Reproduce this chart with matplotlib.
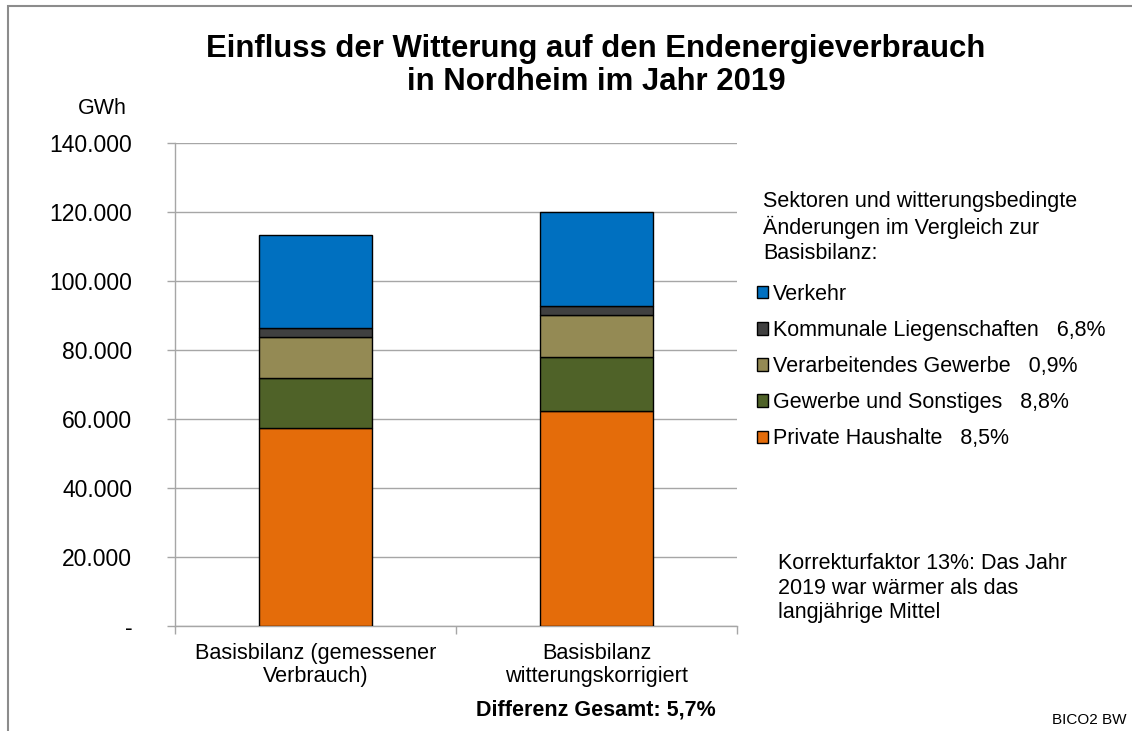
import matplotlib
matplotlib.use("Agg")
import matplotlib.pyplot as plt
from matplotlib.patches import Rectangle
import numpy as np

plt.rcParams['font.family'] = ['Liberation Sans', 'DejaVu Sans']

# data (GWh)
categories = ['Basisbilanz (gemessener\nVerbrauch)', 'Basisbilanz\nwitterungskorrigiert']
sectors = ['Private Haushalte', 'Gewerbe und Sonstiges', 'Verarbeitendes Gewerbe',
           'Kommunale Liegenschaften', 'Verkehr']
changes = ['8,5%', '8,8%', '0,9%', '6,8%', '']
private = [57400, 62300]
gewerbe = [14500, 15800]
verarb = [11900, 12000]
kommunal = [2600, 2780]
verkehr = [27000, 27000]
colors = ['#E46C0A', '#4F6228', '#948A54', '#404040', '#0070C0']
yticks = [0, 20000, 40000, 60000, 80000, 100000, 120000, 140000]

W, H = 1132, 731
def fx(x):
    return x / W
def fy(y):
    return 1 - y / H

fig = plt.figure(figsize=(W / 100, H / 100), dpi=100)
ax = fig.add_axes([fx(175), fy(626), fx(737) - fx(175), fy(143) - fy(626)])

x = np.arange(len(categories))
bottom = np.zeros(len(categories))
handles = []
for vals, c in zip([private, gewerbe, verarb, kommunal, verkehr], colors):
    b = ax.bar(x, vals, 0.4, bottom=bottom, color=c, edgecolor='black', linewidth=1.0, zorder=3)
    handles.append(b)
    bottom += np.array(vals)

ax.set_xlim(-0.5, 1.5)
ax.set_ylim(0, 140000)
ax.set_yticks(yticks)
ax.set_yticklabels(['-' if v == 0 else f'{v:,}'.replace(',', '.') for v in yticks])
ax.tick_params(axis='y', direction='out', length=5.8, width=1, color='#a6a6a6',
               labelsize=16.5, pad=25)
ax.set_xticks([-0.5, 0.5, 1.5])
ax.set_xticklabels([])
ax.tick_params(axis='x', which='major', direction='out', length=5.8, width=1, color='#a6a6a6')
ax.set_xticks(x, minor=True)
ax.set_xticklabels(categories, minor=True, fontsize=15.6, linespacing=1.15)
ax.tick_params(axis='x', which='minor', length=0, pad=12)
ax.grid(axis='y', color='#a6a6a6', linewidth=1, zorder=0)
for s in ['top', 'right']:
    ax.spines[s].set_visible(False)
for s in ['left', 'bottom']:
    ax.spines[s].set_color('#a6a6a6')
    ax.spines[s].set_linewidth(1)

# legend
labels = [f'{s}   {p}' if p else s for s, p in zip(sectors, changes)]
leg = fig.legend(handles[::-1], labels[::-1], loc='upper left',
                 bbox_to_anchor=(fx(757), fy(284)), frameon=False, fontsize=15.5,
                 handlelength=0.5, handleheight=0.5, handletextpad=0.25,
                 labelspacing=0.7, borderaxespad=0, borderpad=0)

fig.text(fx(596), fy(49), 'Einfluss der Witterung auf den Endenergieverbrauch',
         ha='center', va='center', fontsize=22.4, fontweight='bold')
fig.text(fx(596), fy(82), 'in Nordheim im Jahr 2019',
         ha='center', va='center', fontsize=22.4, fontweight='bold')
fig.text(fx(102), fy(108), 'GWh', ha='center', va='center', fontsize=15.5)
fig.text(fx(763), fy(191), 'Sektoren und witterungsbedingte\nÄnderungen im Vergleich zur\nBasisbilanz:',
         ha='left', va='top', fontsize=15.5, linespacing=1.22)
fig.text(fx(778), fy(553), 'Korrekturfaktor 13%: Das Jahr\n2019 war wärmer als das\nlangjährige Mittel',
         ha='left', va='top', fontsize=15.5, linespacing=1.22)
fig.text(fx(596), fy(710), 'Differenz Gesamt: 5,7%', ha='center', va='center',
         fontsize=15.5, fontweight='bold')
fig.text(fx(1127), fy(720), 'BICO2 BW', ha='right', va='center', fontsize=11)

fig.patches.append(Rectangle((fx(8), -0.1), 1.2, fy(6) + 0.1, transform=fig.transFigure,
                             fill=False, edgecolor='#8c8c8c', linewidth=1.5))

fig.savefig('out.png', dpi=100)
